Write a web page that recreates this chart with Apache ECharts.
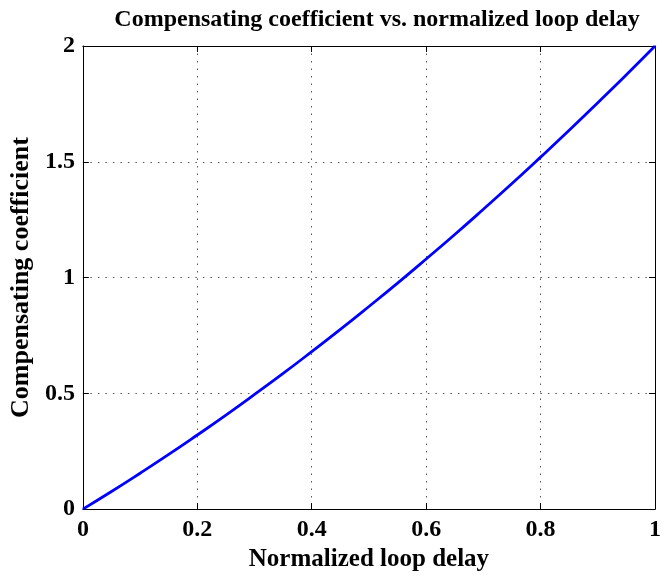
<!DOCTYPE html>
<html>
<head>
<meta charset="utf-8">
<script src="https://cdn.jsdelivr.net/npm/echarts@6/dist/echarts.min.js"></script>
<style>
html,body{margin:0;padding:0;background:#fff;}
#chart{width:664px;height:577px;}
</style>
</head>
<body>
<div id="chart"></div>
<script>
const titleText = 'Compensating coefficient vs. normalized loop delay';
const xAxisName = 'Normalized loop delay';
const yAxisName = 'Compensating coefficient';
const delay = [0, 0.05, 0.1, 0.15, 0.2, 0.25, 0.3, 0.35, 0.4, 0.45, 0.5, 0.55, 0.6, 0.65, 0.7, 0.75, 0.8, 0.85, 0.9, 0.95, 1];
const coeff = [0, 0.076, 0.155, 0.236, 0.32, 0.406, 0.495, 0.586, 0.68, 0.776, 0.875, 0.976, 1.08, 1.186, 1.295, 1.406, 1.52, 1.636, 1.755, 1.876, 2];

const font = 'Liberation Serif';
const chart = echarts.init(document.getElementById('chart'), null, {renderer: 'canvas'});
const tickStyle = {show: true, inside: true, length: 6, lineStyle: {color: '#000', width: 1}};
const gridLine = {show: true, lineStyle: {color: '#555', width: 1, type: [1.5, 6]}};
const lblStyle = {fontFamily: font, fontWeight: 'bold', fontSize: 24, color: '#000'};

chart.setOption({
  animation: false,
  backgroundColor: '#fff',
  title: {
    text: titleText,
    left: 372, top: 3, textAlign: 'center',
    textStyle: {fontFamily: font, fontWeight: 'bold', fontSize: 24, color: '#000'}
  },
  grid: {left: 80, right: 4, top: 46, bottom: 63, containLabel: false},
  xAxis: [{
    type: 'value', min: 0, max: 1, interval: 0.2, position: 'bottom',
    axisLine: {show: true, onZero: false, lineStyle: {color: '#000', width: 1}},
    axisTick: tickStyle,
    axisLabel: Object.assign({margin: 9, formatter: v => String(+v.toFixed(1))}, lblStyle),
    splitLine: gridLine,
    name: xAxisName, nameLocation: 'middle', nameGap: 36,
    nameTextStyle: {fontFamily: font, fontWeight: 'bold', fontSize: 25, color: '#000'}
  }, {
    type: 'value', min: 0, max: 1, interval: 0.2, position: 'top',
    axisLine: {show: true, onZero: false, lineStyle: {color: '#000', width: 1}},
    axisTick: tickStyle, axisLabel: {show: false}, splitLine: {show: false}
  }],
  yAxis: [{
    type: 'value', min: 0, max: 2, interval: 0.5, position: 'left',
    axisLine: {show: true, onZero: false, lineStyle: {color: '#000', width: 1}},
    axisTick: tickStyle,
    axisLabel: Object.assign({margin: 8, formatter: v => String(v)}, lblStyle),
    splitLine: gridLine,
    name: yAxisName, nameLocation: 'middle', nameGap: 46, nameRotate: 90,
    nameTextStyle: {fontFamily: font, fontWeight: 'bold', fontSize: 26, color: '#000'}
  }, {
    type: 'value', min: 0, max: 2, interval: 0.5, position: 'right',
    axisLine: {show: true, onZero: false, lineStyle: {color: '#000', width: 1}},
    axisTick: tickStyle, axisLabel: {show: false}, splitLine: {show: false}
  }],
  series: [{
    type: 'line',
    data: delay.map((d, i) => [d, coeff[i]]),
    smooth: true,
    showSymbol: false,
    lineStyle: {color: '#0000ff', width: 2.8},
    clip: false
  }]
});
</script>
</body>
</html>
